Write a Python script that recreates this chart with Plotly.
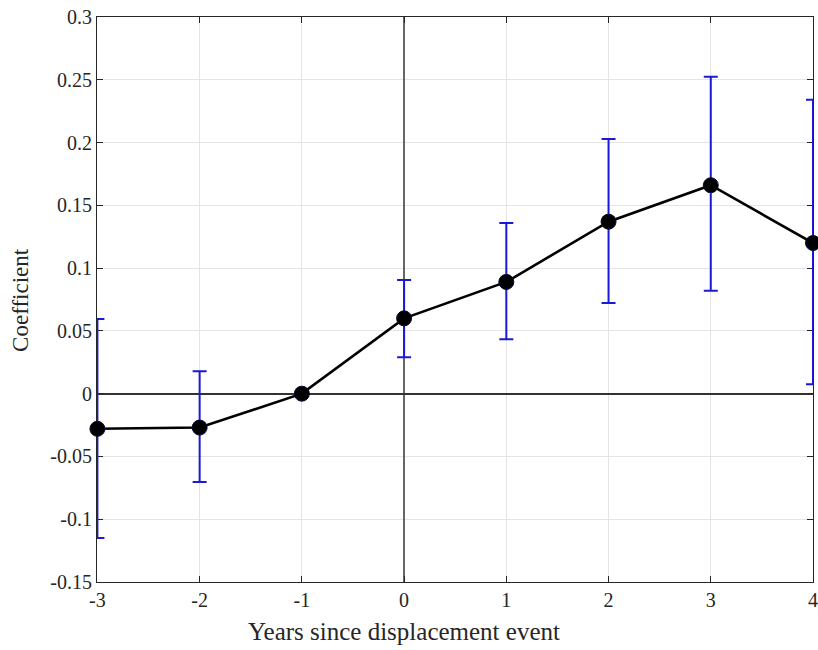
import plotly.graph_objects as go

# Event-study coefficients with confidence bounds
years = [-3, -2, -1, 0, 1, 2, 3, 4]
coef = [-0.028, -0.027, 0.0, 0.060, 0.089, 0.137, 0.166, 0.120]
upper = [0.0595, 0.0178, 0.0, 0.0906, 0.136, 0.2028, 0.2525, 0.234]
lower = [-0.115, -0.0703, 0.0, 0.029, 0.0433, 0.0722, 0.082, 0.0075]

x_ticks = [-3, -2, -1, 0, 1, 2, 3, 4]
y_ticks = [-0.15, -0.1, -0.05, 0, 0.05, 0.1, 0.15, 0.2, 0.25, 0.3]
y_tick_text = ["-0.15", "-0.1", "-0.05", "0", "0.05", "0.1", "0.15", "0.2", "0.25", "0.3"]

x_title = "Years since displacement event"
y_title = "Coefficient"

err_plus = [u - c for u, c in zip(upper, coef)]
err_minus = [c - l for c, l in zip(coef, lower)]

serif = "Liberation Serif"
ink = "#262626"
tick_font = dict(family=serif, size=20, color=ink)

fig = go.Figure()

# Error bars drawn separately so they sit beneath the line
fig.add_trace(go.Scatter(
    x=years, y=coef, mode="markers",
    marker=dict(size=1, color="rgba(0,0,0,0)"),
    error_y=dict(type="data", symmetric=False, array=err_plus, arrayminus=err_minus,
                 color="#1a1ad6", thickness=2, width=7),
    cliponaxis=False, showlegend=False, hoverinfo="skip",
))

fig.add_trace(go.Scatter(
    x=years, y=coef, mode="lines+markers",
    line=dict(color="black", width=2.6),
    marker=dict(size=15, color="black", line=dict(color="#0a0a30", width=1)),
    cliponaxis=False, showlegend=False,
))

fig.update_layout(
    width=818, height=650,
    margin=dict(l=97, r=5, t=17, b=68),
    paper_bgcolor="white", plot_bgcolor="white",
    font=dict(family=serif, size=20, color=ink),
    annotations=[
        dict(text=x_title, xref="paper", yref="paper", x=0.429, y=-0.088,
             xanchor="center", yanchor="middle", showarrow=False,
             font=dict(family=serif, size=25, color=ink)),
        dict(text=y_title, xref="paper", yref="paper", x=-0.107, y=0.5,
             xanchor="center", yanchor="middle", showarrow=False, textangle=-90,
             font=dict(family=serif, size=23, color=ink)),
    ],
)

fig.update_xaxes(
    range=[-3.004, 4], tickmode="array", tickvals=x_ticks, ticktext=[str(v) for v in x_ticks],
    tickfont=tick_font, automargin=False, layer="below traces",
    ticklabeloverflow="allow",
    showgrid=True, gridcolor="#e4e4e4", gridwidth=1,
    zeroline=True, zerolinecolor="#666666", zerolinewidth=2,
    showline=True, linecolor=ink, linewidth=1, mirror="ticks",
    ticks="inside", ticklen=6, tickcolor=ink,
)

fig.update_yaxes(
    range=[-0.15, 0.3], tickmode="array", tickvals=y_ticks, ticktext=y_tick_text,
    tickfont=tick_font, automargin=False, layer="below traces",
    ticklabeloverflow="allow",
    showgrid=True, gridcolor="#e4e4e4", gridwidth=1,
    zeroline=True, zerolinecolor="#333333", zerolinewidth=2,
    showline=True, linecolor=ink, linewidth=1, mirror="ticks",
    ticks="inside", ticklen=6, tickcolor=ink,
)

fig.write_html("out.html")
